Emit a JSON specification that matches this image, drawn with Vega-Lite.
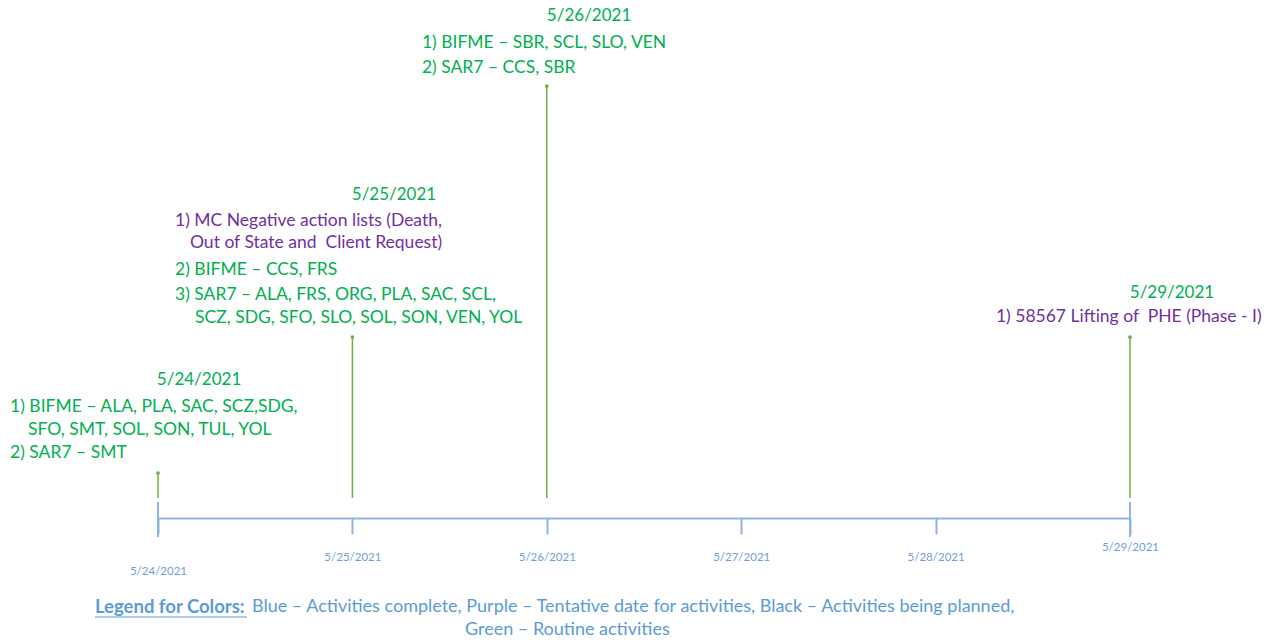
{
  "$schema": "https://vega.github.io/schema/vega-lite/v6.json",
  "autosize": {"type": "none"},
  "width": 972,
  "height": 518,
  "padding": {"left": 158, "top": 0, "right": 143, "bottom": 124},
  "background": "white",
  "config": {"view": {"stroke": null}},
  "datasets": {
    "stems": [
      {"date": "2021-05-24T00:00:00", "h": 45},
      {"date": "2021-05-25T00:00:00", "h": 181},
      {"date": "2021-05-26T00:00:00", "h": 432},
      {"date": "2021-05-29T00:00:00", "h": 181}
    ],
    "ends": [
      {"date": "2021-05-24T00:00:00", "h": 16, "h2": -19},
      {"date": "2021-05-29T00:00:00", "h": 16, "h2": -19}
    ],
    "notes": [
      {"date": "2021-05-24T05:04:00", "h": 138, "block": "header", "status": "Routine", "text": "5/24/2021"},
      {"date": "2021-05-23T05:44:00", "h": 111, "block": "item", "status": "Routine", "text": "1) BIFME – ALA, PLA, SAC, SCZ,SDG,"},
      {"date": "2021-05-23T07:57:00", "h": 88, "block": "item", "status": "Routine", "text": "SFO, SMT, SOL, SON, TUL, YOL"},
      {"date": "2021-05-23T05:44:00", "h": 65, "block": "item", "status": "Routine", "text": "2) SAR7 – SMT"},
      {"date": "2021-05-25T05:08:00", "h": 323, "block": "header", "status": "Routine", "text": "5/25/2021"},
      {"date": "2021-05-24T02:06:00", "h": 297, "block": "item", "status": "Tentative", "text": "1) MC Negative action lists (Death,"},
      {"date": "2021-05-24T03:57:00", "h": 275, "block": "item", "status": "Tentative", "text": "Out of State and \u00a0Client Request)"},
      {"date": "2021-05-24T02:06:00", "h": 248, "block": "item", "status": "Routine", "text": "2) BIFME – CCS, FRS"},
      {"date": "2021-05-24T02:06:00", "h": 223, "block": "item", "status": "Routine", "text": "3) SAR7 – ALA, FRS, ORG, PLA, SAC, SCL,"},
      {"date": "2021-05-24T04:34:00", "h": 200, "block": "item", "status": "Routine", "text": "SCZ, SDG, SFO, SLO, SOL, SON, VEN, YOL"},
      {"date": "2021-05-26T05:13:00", "h": 502, "block": "header", "status": "Routine", "text": "5/26/2021"},
      {"date": "2021-05-25T08:35:00", "h": 475, "block": "item", "status": "Routine", "text": "1) BIFME – SBR, SCL, SLO, VEN"},
      {"date": "2021-05-25T08:35:00", "h": 450, "block": "item", "status": "Routine", "text": "2) SAR7 – CCS, SBR"},
      {"date": "2021-05-29T05:11:00", "h": 225, "block": "header", "status": "Routine", "text": "5/29/2021"},
      {"date": "2021-05-28T07:27:00", "h": 201, "block": "item", "status": "Tentative", "text": "1) 58567 Lifting of \u00a0PHE (Phase - I)"},
      {"date": "2021-05-23T16:13:00", "h": -89, "block": "legendtitle", "status": "Legend", "text": "Legend for Colors:"},
      {"date": "2021-05-24T11:36:00", "h": -89, "block": "legend", "status": "Legend", "text": "Blue – Activities complete, Purple – Tentative date for activities, Black – Activities being planned,"},
      {"date": "2021-05-25T13:54:00", "h": -112, "block": "legend", "status": "Legend", "text": "Green – Routine activities"}
    ],
    "underline": [
      {"date": "2021-05-23T16:13:00", "date2": "2021-05-24T10:59:00", "h": -99}
    ]
  },
  "layer": [
    {
      "data": {"name": "stems"},
      "mark": {"type": "rule", "color": "#70ad47", "strokeWidth": 1.5},
      "encoding": {
        "x": {
          "field": "date",
          "type": "temporal",
          "scale": {
            "domain": [
              {"year": 2021, "month": 5, "date": 24},
              {"year": 2021, "month": 5, "date": 29}
            ],
            "nice": false
          },
          "axis": {
            "title": null,
            "values": [
              {"year": 2021, "month": 5, "date": 24},
              {"year": 2021, "month": 5, "date": 25},
              {"year": 2021, "month": 5, "date": 26},
              {"year": 2021, "month": 5, "date": 27},
              {"year": 2021, "month": 5, "date": 28},
              {"year": 2021, "month": 5, "date": 29}
            ],
            "format": "%-m/%-d/%Y",
            "grid": false,
            "domainColor": "#8eb4e3",
            "domainWidth": 2,
            "tickColor": "#8eb4e3",
            "tickWidth": 2,
            "tickSize": 16,
            "labelFont": "Lato",
            "labelFontSize": 11.5,
            "labelColor": "#6f9fd8",
            "labelFlush": false,
            "labelOverlap": false,
            "labelPadding": {
              "condition": [
                {"test": "date(datum.value) === 24", "value": 31},
                {"test": "date(datum.value) === 29", "value": 7}
              ],
              "value": 17
            }
          }
        },
        "y": {"field": "h", "type": "quantitative", "scale": {"domain": [0, 518], "nice": false, "zero": false}, "axis": null},
        "y2": {"datum": 20}
      }
    },
    {
      "data": {"name": "stems"},
      "mark": {"type": "point", "filled": true, "size": 14, "color": "#70ad47", "opacity": 1},
      "encoding": {
        "x": {"field": "date", "type": "temporal"},
        "y": {"field": "h", "type": "quantitative"}
      }
    },
    {
      "data": {"name": "ends"},
      "mark": {"type": "rule", "color": "#8eb4e3", "strokeWidth": 2},
      "encoding": {
        "x": {"field": "date", "type": "temporal"},
        "y": {"field": "h", "type": "quantitative"},
        "y2": {"field": "h2"}
      }
    },
    {
      "data": {"name": "notes"},
      "transform": [{"filter": "datum.block === 'header'"}],
      "mark": {"type": "text", "align": "center", "baseline": "middle", "font": "Lato", "fontSize": 17},
      "encoding": {
        "x": {"field": "date", "type": "temporal"},
        "y": {"field": "h", "type": "quantitative"},
        "text": {"field": "text"},
        "color": {
          "field": "status",
          "type": "nominal",
          "scale": {"domain": ["Routine", "Tentative", "Legend"], "range": ["#00b050", "#7030a0", "#5b9bd5"]},
          "legend": null
        }
      }
    },
    {
      "data": {"name": "notes"},
      "transform": [{"filter": "datum.block === 'item'"}],
      "mark": {"type": "text", "align": "left", "baseline": "middle", "font": "Lato", "fontSize": 17.5},
      "encoding": {
        "x": {"field": "date", "type": "temporal"},
        "y": {"field": "h", "type": "quantitative"},
        "text": {"field": "text"},
        "color": {"field": "status", "type": "nominal", "legend": null}
      }
    },
    {
      "data": {"name": "notes"},
      "transform": [{"filter": "datum.block === 'legend'"}],
      "mark": {"type": "text", "align": "left", "baseline": "middle", "font": "Lato", "fontSize": 18},
      "encoding": {
        "x": {"field": "date", "type": "temporal"},
        "y": {"field": "h", "type": "quantitative"},
        "text": {"field": "text"},
        "color": {"field": "status", "type": "nominal", "legend": null}
      }
    },
    {
      "data": {"name": "notes"},
      "transform": [{"filter": "datum.block === 'legendtitle'"}],
      "mark": {"type": "text", "align": "left", "baseline": "middle", "font": "Lato", "fontSize": 18.5, "fontWeight": "bold"},
      "encoding": {
        "x": {"field": "date", "type": "temporal"},
        "y": {"field": "h", "type": "quantitative"},
        "text": {"field": "text"},
        "color": {"field": "status", "type": "nominal", "legend": null}
      }
    },
    {
      "data": {"name": "underline"},
      "mark": {"type": "rule", "color": "#5b9bd5", "strokeWidth": 1.2},
      "encoding": {
        "x": {"field": "date", "type": "temporal"},
        "x2": {"field": "date2"},
        "y": {"field": "h", "type": "quantitative"}
      }
    }
  ]
}
